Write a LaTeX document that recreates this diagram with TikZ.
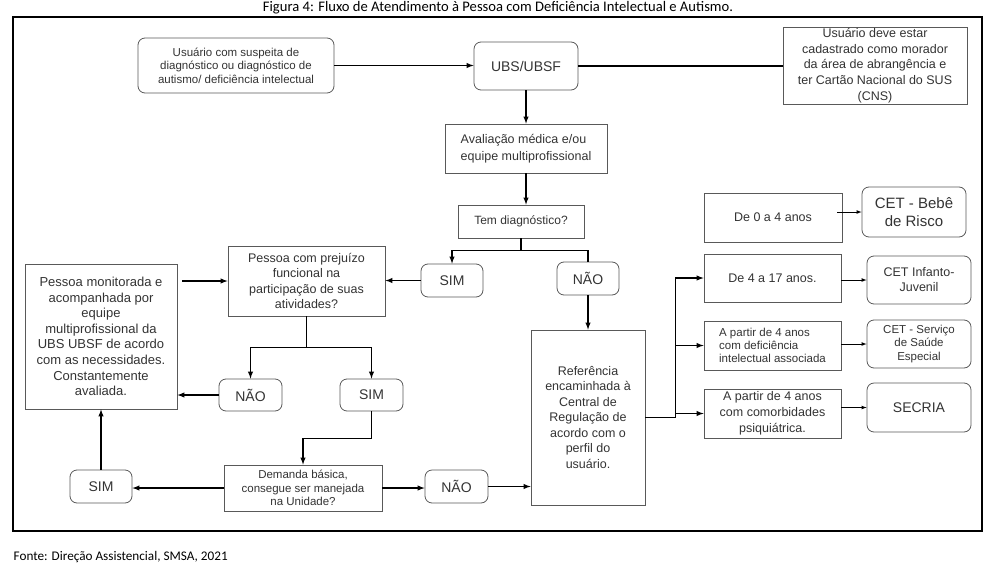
\documentclass[tikz,border=0pt]{standalone}
\usepackage{fontspec}
\setmainfont{Liberation Sans}
\newfontfamily\calibri{Carlito}
\begin{document}
\begin{tikzpicture}[x=1pt, y=-1pt, >=latex, line width=1.4pt,
    plainbox/.style={draw=black!65, line width=0.8pt, align=center, inner sep=0pt, text=black!80},
    roundbox/.style={plainbox, rounded corners=7pt},
    thinarrow/.style={->, line width=0.7pt}]
  \useasboundingbox (0,0) rectangle (995,575);
  \draw [line width=2pt] (13,17) rectangle (982,531);
  \node (title) at (498, 8) {\calibri\fontsize{14.6}{16}\selectfont Figura 4: Fluxo de Atendimento à Pessoa com Deficiência Intelectual e Autismo.};
  \node (fonte) [anchor=west, inner sep=0pt] at (13, 557) {\calibri\fontsize{13.2}{15}\selectfont Fonte: Direção Assistencial, SMSA, 2021};

  \node (suspeita) at (236, 65.5) [roundbox, minimum width=196, minimum height=55, font=\fontsize{11.5}{13.5}\selectfont] {Usuário com suspeita de\\diagnóstico ou diagnóstico de\\autismo/ deficiência intelectual};
  \node (ubs) at (526, 66) [roundbox, minimum width=104, minimum height=48, font=\fontsize{14}{16}\selectfont] {UBS/UBSF};
  \node (cadastro) at (875, 65.5) [plainbox, minimum width=184, minimum height=77, font=\fontsize{12.5}{15.6}\selectfont] {Usuário deve estar\\cadastrado como morador\\da área de abrangência e\\ter Cartão Nacional do SUS\\(CNS)};
  \node (avaliacao) at (526, 148.5) [plainbox, minimum width=162, minimum height=49, align=left, font=\fontsize{12.5}{16.5}\selectfont] {Avaliação médica e/ou\\equipe multiprofissional};
  \node (temdiag) at (521, 221.5) [plainbox, minimum width=126, minimum height=33, font=\fontsize{12}{14}\selectfont] {Tem diagnóstico?};
  \node (simA) at (452, 280.5) [roundbox, minimum width=62, minimum height=33, font=\fontsize{14}{16}\selectfont] {SIM};
  \node (naoA) at (588, 278.5) [roundbox, minimum width=62, minimum height=33, font=\fontsize{14}{16}\selectfont] {NÃO};
  \node (prejuizo) at (306.5, 281) [plainbox, minimum width=157, minimum height=70, font=\fontsize{12.5}{15.5}\selectfont] {Pessoa com prejuízo\\funcional na\\participação de suas\\atividades?};
  \node (monitorada) at (101, 336.5) [plainbox, minimum width=152, minimum height=145, font=\fontsize{13}{15.6}\selectfont] {Pessoa monitorada e\\acompanhada por\\equipe\\multiprofissional da\\UBS UBSF de acordo\\com as necessidades.\\Constantemente\\avaliada.};
  \node (naoB) at (250.5, 395) [roundbox, minimum width=63, minimum height=32, font=\fontsize{14}{16}\selectfont] {NÃO};
  \node (simB) at (371.5, 395) [roundbox, minimum width=63, minimum height=32, font=\fontsize{14}{16}\selectfont] {SIM};
  \node (demanda) at (303, 488) [plainbox, minimum width=158, minimum height=46, font=\fontsize{11.5}{13.7}\selectfont] {Demanda básica,\\consegue ser manejada\\na Unidade?};
  \node (simC) at (101, 486.5) [roundbox, minimum width=62, minimum height=33, font=\fontsize{14}{16}\selectfont] {SIM};
  \node (naoC) at (456.5, 486.5) [roundbox, minimum width=63, minimum height=33, font=\fontsize{14}{16}\selectfont] {NÃO};
  \node (referencia) at (588, 417.5) [plainbox, minimum width=114, minimum height=175, font=\fontsize{12.5}{15.5}\selectfont] {Referência\\encaminhada à\\Central de\\Regulação de\\acordo com o\\perfil do\\usuário.};

  \node (idade0) at (773, 217.5) [plainbox, minimum width=138, minimum height=49, font=\fontsize{12.5}{15}\selectfont] {De 0 a 4 anos};
  \node (idade17) at (772.5, 278) [plainbox, minimum width=137, minimum height=48, font=\fontsize{12.5}{15}\selectfont] {De 4 a 17 anos.};
  \node (idadedef) at (772.5, 345.5) [plainbox, minimum width=137, minimum height=49, align=left, font=\fontsize{11.5}{13.3}\selectfont] {A partir de 4 anos\\com deficiência\\intelectual associada};
  \node (idadecom) at (772.5, 413.5) [plainbox, minimum width=137, minimum height=49, font=\fontsize{12.5}{15.8}\selectfont] {A partir de 4 anos\\com comorbidades\\psiquiátrica.};
  \node (cetbebe) at (914, 212) [roundbox, minimum width=104, minimum height=50, font=\fontsize{15}{18.7}\selectfont] {CET - Bebê\\de Risco};
  \node (cetinfanto) at (919, 280) [roundbox, minimum width=104, minimum height=48, font=\fontsize{12.5}{15}\selectfont] {CET Infanto-\\Juvenil};
  \node (cetservico) at (919, 344) [roundbox, minimum width=104, minimum height=48, font=\fontsize{11.5}{13.8}\selectfont] {CET - Serviço\\de Saúde\\Especial};
  \node (secria) at (919, 407.5) [roundbox, minimum width=104, minimum height=49, font=\fontsize{14}{16}\selectfont] {SECRIA};

  \draw [->] (suspeita) -- (suspeita -| ubs.west);
  \draw (ubs.east) -- (ubs.east -| cadastro.west);
  \draw [->] (ubs) -- (avaliacao);
  \draw [->] (avaliacao.south) -- (avaliacao.south |- temdiag.north);
  \draw [->] (temdiag.south) -- ++(0,12) -| (simA.north);
  \draw (temdiag.south) -- ++(0,12) -| (naoA.north);
  \draw [->] (simA.west) -- (simA.west -| prejuizo.east);
  \draw [->] (naoA) -- (referencia);
  \draw [->] ([xshift=5]monitorada.east |- prejuizo.west) -- (prejuizo.west);
  \draw [->] (prejuizo.south) -- ++(0,31) -| (naoB.north);
  \draw [->] (prejuizo.south) -- ++(0,31) -| (simB.north);
  \draw [->] (naoB.west) -- (naoB.west -| monitorada.east);
  \draw [->] (simB.south) -- ++(0,27) -| (demanda.north);
  \draw [->] (demanda.west) -- (demanda.west -| simC.east);
  \draw [->] (simC) -- (monitorada);
  \draw [->] (demanda.east) -- (demanda.east -| naoC.west);
  \draw [->] (naoC.east) -- (naoC.east -| referencia.west);
  \coordinate (tronco) at ([xshift=30]referencia.east);
  \draw (referencia.east) -- (tronco);
  \draw [->] (tronco) |- (idade17.west);
  \draw [->] (tronco |- idadedef.west) -- (idadedef.west);
  \draw [->] (tronco |- idadecom.west) -- (idadecom.west);
  \draw [thinarrow] ([xshift=-5]idade0.east |- cetbebe.west) -- (cetbebe.west);
  \draw [thinarrow] (idade17.east |- cetinfanto.west) -- (cetinfanto.west);
  \draw [thinarrow] (idadedef.east |- cetservico.west) -- (cetservico.west);
  \draw [thinarrow] (idadecom.east |- secria.west) -- (secria.west);
\end{tikzpicture}
\end{document}
